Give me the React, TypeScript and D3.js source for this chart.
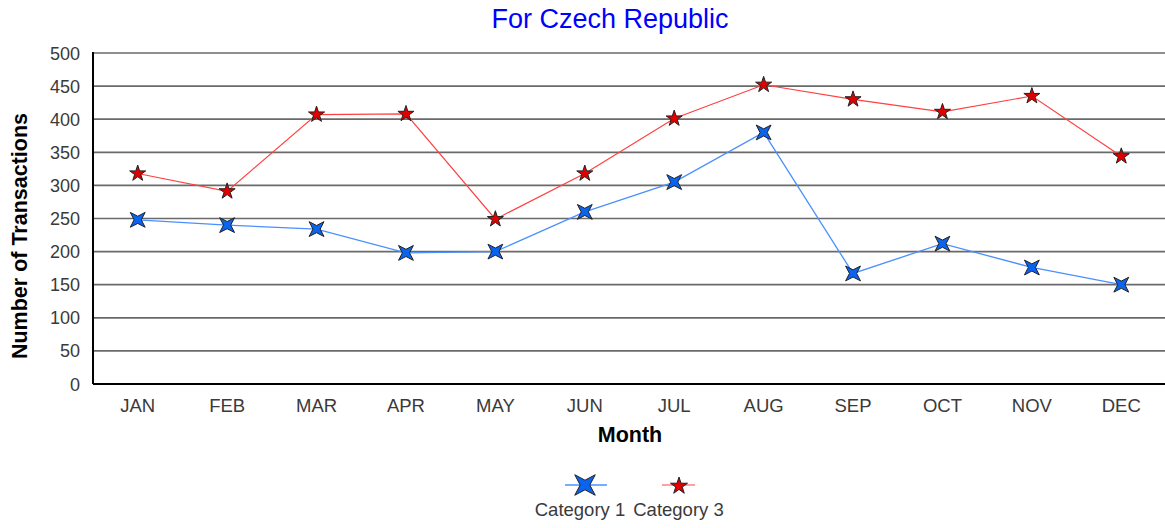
import React from "react";
import * as d3 from "d3";

const months = ["JAN", "FEB", "MAR", "APR", "MAY", "JUN", "JUL", "AUG", "SEP", "OCT", "NOV", "DEC"];
const category1 = [248, 240, 234, 198, 200, 260, 305, 380, 167, 212, 176, 150];
const category3 = [318, 291, 407, 408, 249, 318, 401, 452, 430, 411, 435, 344];
const yTicks = [0, 50, 100, 150, 200, 250, 300, 350, 400, 450, 500];
const seriesNames = ["Category 1", "Category 3"];

const W = 1165, H = 528;
const left = 93, right = 1166, top = 53, bottom = 384;
const FONT = "'Liberation Sans', Arial, sans-serif";

function star4(R: number, r: number) {
  const pts: [number, number][] = [];
  for (let i = 0; i < 8; i++) {
    const a = Math.PI / 4 + (i * Math.PI) / 4;
    const rad = i % 2 === 0 ? R : r;
    pts.push([Math.cos(a) * rad, Math.sin(a) * rad]);
  }
  return "M" + pts.map((p) => p.join(",")).join("L") + "Z";
}

export default function App() {
  const x = d3.scaleBand().domain(months).range([left, right]);
  const y = d3.scaleLinear().domain([0, 500]).range([bottom, top]);
  const cx = (m: string) => (x(m) as number) + x.bandwidth() / 2;
  const line = d3
    .line<number>()
    .x((_, i) => cx(months[i]))
    .y((d) => y(d));
  const p4 = star4(10.5, 3.6);
  const p4L = star4(14.5, 4.8);
  const p5 = d3.symbol(d3.symbolStar, 80)() as string;
  const p5L = d3.symbol(d3.symbolStar, 90)() as string;

  return (
    <svg width={W} height={H} style={{ position: "absolute", left: 0, top: 0, background: "#fff" }} fontFamily={FONT}>
      <text x={610} y={28} textAnchor="middle" fontSize={27} fill="#0000ff">For Czech Republic</text>
      {yTicks.map((t) => (
        <g key={t}>
          {t > 0 && <line x1={left} x2={right} y1={y(t)} y2={y(t)} stroke="#6a6a6a" strokeWidth={1.7} />}
          <text x={80} y={y(t) + 6.5} textAnchor="end" fontSize={18} fill="#3a3a3a">{t}</text>
        </g>
      ))}
      <line x1={left} x2={left} y1={top - 1} y2={bottom} stroke="#000" strokeWidth={2} />
      <line x1={left} x2={right} y1={bottom} y2={bottom} stroke="#000" strokeWidth={2} />
      {months.map((m) => (
        <text key={m} x={cx(m)} y={412} textAnchor="middle" fontSize={18.5} fill="#3a3a3a">{m}</text>
      ))}
      <text x={630} y={442} textAnchor="middle" fontSize={21.5} fontWeight="bold" fill="#000">Month</text>
      <text transform={`translate(27,236) rotate(-90)`} textAnchor="middle" fontSize={21.5} fontWeight="bold" fill="#000">Number of Transactions</text>

      <path d={line(category1) as string} fill="none" stroke="#4a90ff" strokeWidth={1.3} />
      <path d={line(category3) as string} fill="none" stroke="#ff4040" strokeWidth={1.2} />
      {category1.map((v, i) => (
        <path key={"a" + i} d={p4} transform={`translate(${cx(months[i])},${y(v)})`} fill="#0a64f0" stroke="#222" strokeWidth={1} />
      ))}
      {category3.map((v, i) => (
        <path key={"b" + i} d={p5} transform={`translate(${cx(months[i])},${y(v)})`} fill="#e00000" stroke="#222" strokeWidth={1} />
      ))}

      <line x1={565} x2={607} y1={485} y2={485} stroke="#4a90ff" strokeWidth={1.3} />
      <path d={p4L} transform="translate(585,485)" fill="#0a64f0" stroke="#222" strokeWidth={1} />
      <line x1={662} x2={695} y1={485} y2={485} stroke="#ff4040" strokeWidth={1.2} />
      <path d={p5L} transform="translate(679,486)" fill="#e00000" stroke="#222" strokeWidth={1} />
      <text x={580} y={516} textAnchor="middle" fontSize={18.5} fill="#3a3a3a">{seriesNames[0]}</text>
      <text x={678.5} y={516} textAnchor="middle" fontSize={18.5} fill="#3a3a3a">{seriesNames[1]}</text>
    </svg>
  );
}
